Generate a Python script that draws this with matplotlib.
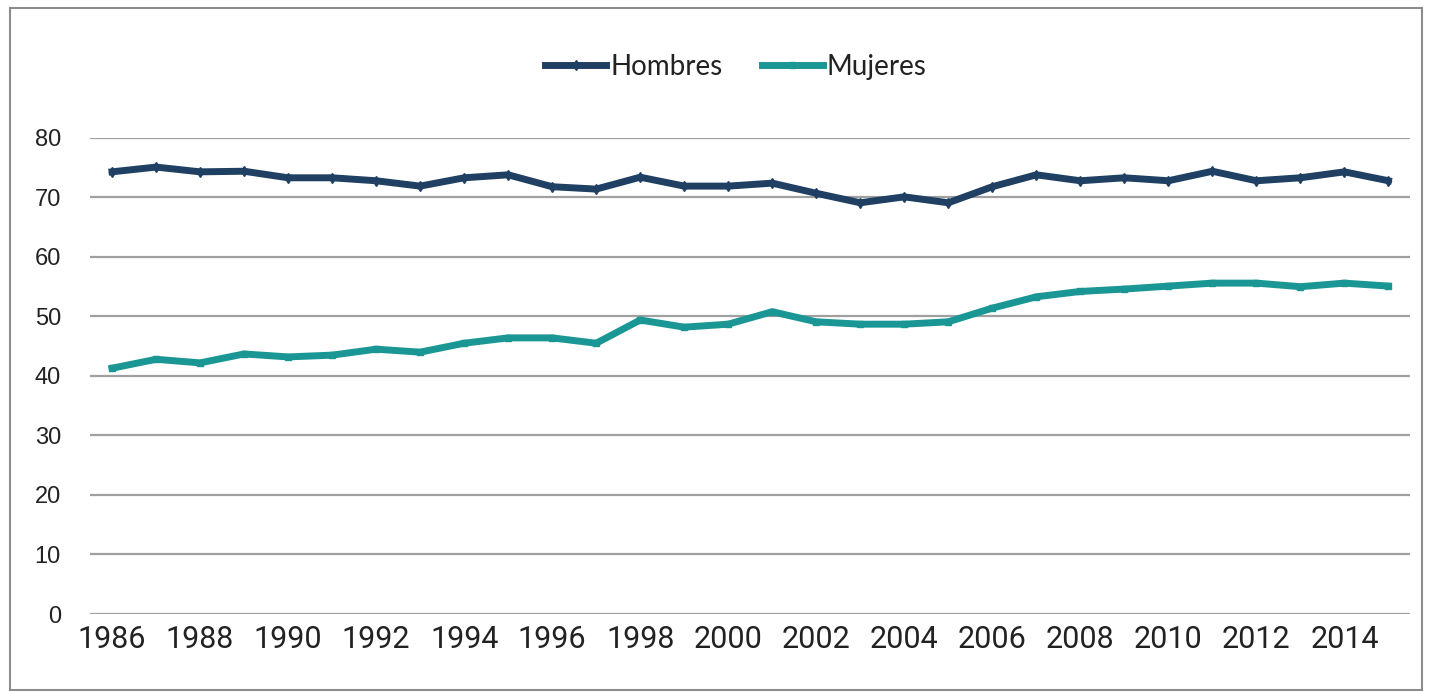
import numpy as np
import matplotlib.pyplot as plt
from matplotlib.patches import Rectangle

years = list(range(1986, 2016))
hombres = [74.3, 75.1, 74.3, 74.4, 73.3, 73.3, 72.8, 71.9, 73.3, 73.8, 71.8, 71.4,
           73.4, 71.9, 71.9, 72.4, 70.7, 69.1, 70.1, 69.1, 71.8, 73.8, 72.8, 73.3,
           72.8, 74.4, 72.8, 73.3, 74.3, 72.8]
mujeres = [41.3, 42.8, 42.2, 43.7, 43.2, 43.5, 44.5, 44.0, 45.5, 46.4, 46.4, 45.5,
           49.4, 48.2, 48.7, 50.8, 49.1, 48.7, 48.7, 49.1, 51.4, 53.3, 54.2, 54.6,
           55.1, 55.6, 55.6, 55.0, 55.6, 55.1]
yticks = [0, 10, 20, 30, 40, 50, 60, 70, 80]

col_h = '#1f3f63'
col_m = '#1a9794'

fig = plt.figure(figsize=(14.29, 6.92), dpi=100)
ax = fig.add_axes([0.063, 0.1127, 0.924, 0.688])

ax.plot(years, hombres, color=col_h, lw=5, marker='d', ms=5, label='Hombres')
ax.plot(years, mujeres, color=col_m, lw=5, marker='s', ms=5, label='Mujeres')

ax.set_xlim(1985.5, 2015.5)
ax.set_ylim(0, 80)
ax.set_yticks(yticks)
ax.set_xticks(years[::2])
ax.grid(axis='y', color='#a0a0a0', lw=1.6)
ax.set_axisbelow(True)
for s in ax.spines.values():
    s.set_visible(False)
ax.tick_params(length=0)
ax.tick_params(axis='y', labelsize=17, pad=21, labelcolor='#222222')
ax.tick_params(axis='x', labelsize=22, pad=8, labelcolor='#222222')
for t in ax.get_xticklabels():
    t.set_family(['Roboto', 'DejaVu Sans'])
for t in ax.get_yticklabels():
    t.set_family(['Liberation Sans', 'DejaVu Sans'])

leg = fig.legend(loc='center', bbox_to_anchor=(0.515, 0.903), ncol=2, frameon=False,
                 prop={'family': ['Lato', 'DejaVu Sans'], 'size': 20},
                 handlelength=2.2, handletextpad=0.15, columnspacing=1.4)
for t in leg.get_texts():
    t.set_color('#222222')

fig.patches.append(Rectangle((0.007, 0.003), 0.988, 0.985, transform=fig.transFigure,
                             fill=False, edgecolor='#8c8c8c', lw=1.5))

fig.savefig('out.png', dpi=100)
